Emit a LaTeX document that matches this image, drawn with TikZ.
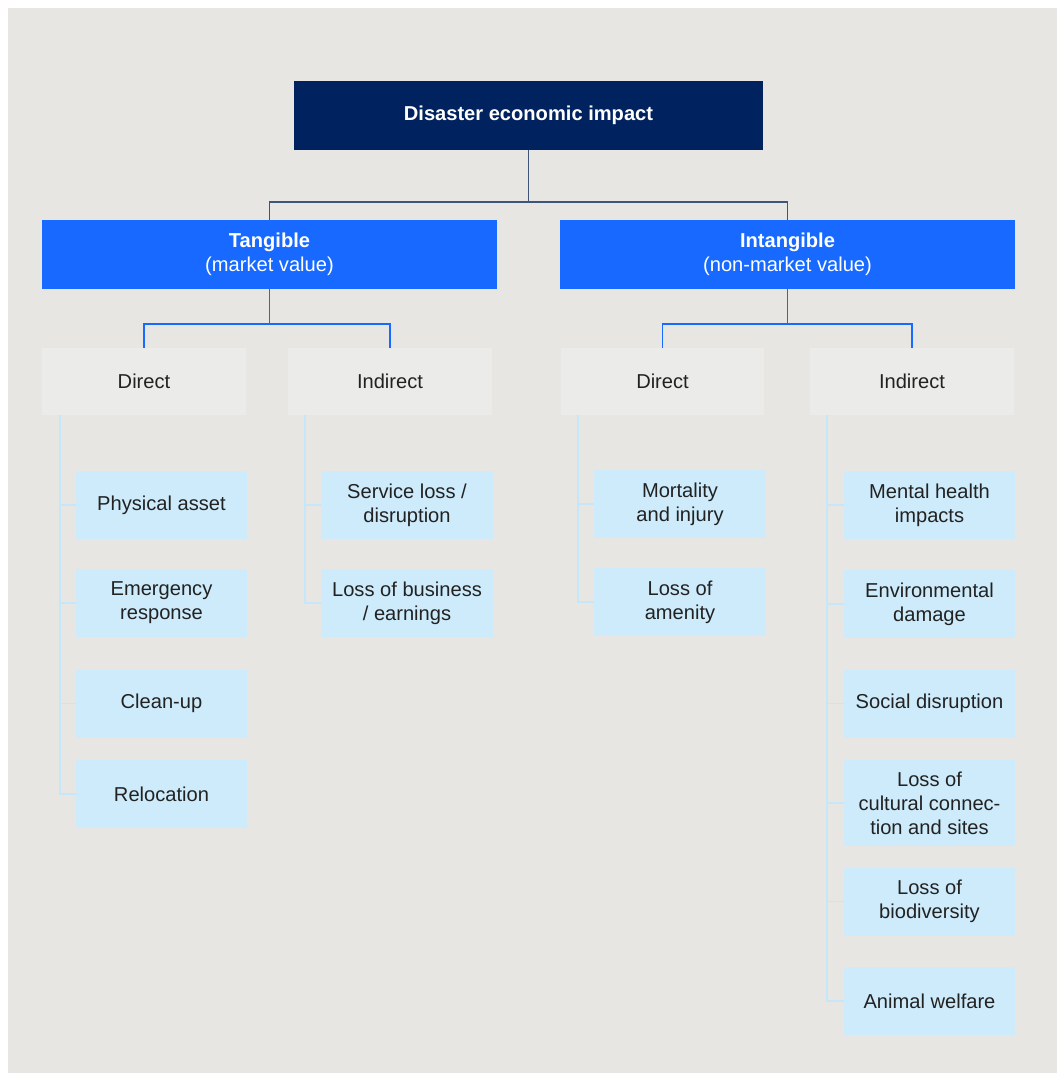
\documentclass[tikz,border=0pt]{standalone}
\usepackage{fontspec}
\setmainfont{Liberation Sans}
\usepackage{xcolor}
\definecolor{PageGrey}{HTML}{E8E6E2}
\definecolor{ImpactNavy}{HTML}{00235F}
\definecolor{ValueBlue}{HTML}{1769FF}
\definecolor{TypeGrey}{HTML}{EBEBEA}
\definecolor{LeafBlue}{HTML}{CDEBFA}
\definecolor{LeafLine}{HTML}{C4E7FA}
\definecolor{NavyLine}{HTML}{3E5577}
\definecolor{BodyText}{HTML}{222222}
\usetikzlibrary{positioning, calc}

\begin{document}
\begin{tikzpicture}[
  x=0.025cm, y=-0.025cm,
  % === BASE STYLES ===
  % Root box
  rootbox/.style={
    fill=ImpactNavy,
    text=white,
    minimum width=11.725cm,
    minimum height=1.725cm,
    font=\bfseries\fontsize{14.3}{17.2}\selectfont,
    align=center
  },
  % Tangible / intangible box
  valuebox/.style={
    fill=ValueBlue,
    text=white,
    minimum width=11.375cm,
    minimum height=1.725cm,
    font=\fontsize{14.3}{17.2}\selectfont,
    align=center
  },
  % Direct / indirect box
  typebox/.style={
    fill=TypeGrey,
    text=BodyText,
    minimum width=5.075cm,
    minimum height=1.675cm,
    font=\fontsize{14.3}{17.2}\selectfont,
    align=center
  },
  % Cost item box
  leaf/.style={
    fill=LeafBlue,
    text=BodyText,
    minimum width=4.275cm,
    minimum height=1.7cm,
    font=\fontsize{14.3}{17.2}\selectfont,
    align=center
  },
  % Lines
  rootline/.style={
    draw=NavyLine,
    line width=1.4pt
  },
  valueline/.style={
    draw=ValueBlue,
    line width=1.4pt
  },
  leafline/.style={
    draw=LeafLine,
    line width=1.4pt
  }
]

% =============================================================================
% BACKGROUND
% =============================================================================
\useasboundingbox (0,0) rectangle (1059,1073);
\fill[white] (0,0) rectangle (1059,1073);
\fill[PageGrey] (8,8) rectangle (1057,1073);

% =============================================================================
% TOP LEVELS
% =============================================================================
\node[rootbox] (root) at (528.5,115.5) {Disaster economic impact};

\node[valuebox] (tang) at (269.5,254.5) {\textbf{Tangible}\\(market value)};
\node[valuebox] (intang) at (787.5,254.5) {\textbf{Intangible}\\(non-market value)};

\draw[rootline] (root.south) -- ++(0,52) -| (tang.north);
\draw[rootline] (root.south) -- ++(0,52) -| (intang.north);

% --- Direct / indirect ---
\node[typebox] (tdir) at (144,381.5) {Direct};
\node[typebox] (tind) at (390,381.5) {Indirect};
\node[typebox] (idir) at (662.5,381.5) {Direct};
\node[typebox] (iind) at (912,381.5) {Indirect};

\draw[valueline] (tang.south) -- ++(0,35) -| (tdir.north);
\draw[valueline] (tang.south) -- ++(0,35) -| (tind.north);
\draw[valueline] (intang.south) -- ++(0,35) -| (idir.north);
\draw[valueline] (intang.south) -- ++(0,35) -| (iind.north);

% =============================================================================
% COST ITEMS
% =============================================================================

% --- Tangible, direct ---
\foreach \name/\ypos/\txt in {pa/505/Physical asset, er/603/{Emergency\\response},
                              cu/703.5/Clean-up, rl/794/Relocation} {
  \node[leaf] (\name) at (161.5,\ypos) {\txt};
  \draw[leafline] ([xshift=0.45cm]tdir.south west) |- (\name.west);
}

% --- Tangible, indirect ---
\foreach \name/\ypos/\txt in {sl/505/{Service loss /\\disruption},
                              lb/603/{Loss of business\\/ earnings}} {
  \node[leaf] (\name) at (407,\ypos) {\txt};
  \draw[leafline] ([xshift=0.43cm]tind.south west) |- (\name.west);
}

% --- Intangible, direct ---
\foreach \name/\ypos/\txt in {mi/504/{Mortality\\and injury}, la/602/{Loss of\\amenity}} {
  \node[leaf] (\name) at (680,\ypos) {\txt};
  \draw[leafline] ([xshift=0.43cm]idir.south west) |- (\name.west);
}

% --- Intangible, indirect ---
\node[leaf, minimum height=2.15cm] (lc) at (929.5,803) {Loss of\\cultural connec-\\tion and sites};
\draw[leafline] ([xshift=0.43cm]iind.south west) |- (lc.west);
\foreach \name/\ypos/\txt in {mh/505/{Mental health\\impacts}, ed/604/{Environmental\\damage},
                              sd/703.5/Social disruption, bd/901.5/{Loss of\\biodiversity},
                              aw/1001/Animal welfare} {
  \node[leaf] (\name) at (929.5,\ypos) {\txt};
  \draw[leafline] ([xshift=0.43cm]iind.south west) |- (\name.west);
}

\end{tikzpicture}
\end{document}
